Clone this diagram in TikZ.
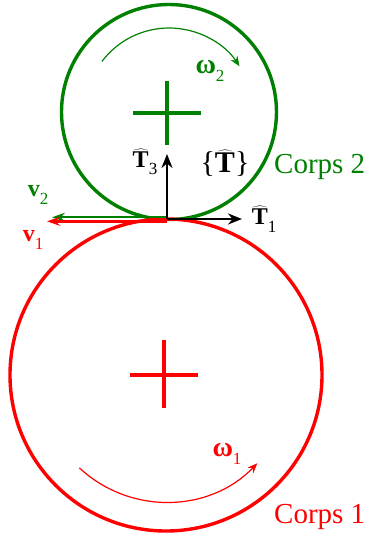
\documentclass[tikz,border=0pt]{standalone}
\usepackage{fontspec}
\setmainfont{Liberation Serif}
\usetikzlibrary{arrows.meta}
\definecolor{cgreen}{RGB}{0,128,0}
\definecolor{cred}{RGB}{255,0,0}
\newcommand{\hatT}{$\widehat{\hbox{\textbf{T}}}$}
\newcommand{\lowsub}[1]{\raisebox{-0.3em}{\fontsize{17}{18}\selectfont #1}}
\tikzset{
  body/.style={line width=3.4pt},
  crossline/.style={line width=3.4pt},
  rotarc/.style={line width=1.2pt,-{Stealth[length=10pt,width=8pt]}},
  axis/.style={line width=2.4pt,black,-{Stealth[length=14pt,width=11pt]}},
  vel/.style={-{Stealth[length=13pt,width=9pt]}},
  lbl/.style={inner sep=0pt,font=\fontsize{24}{28}\selectfont},
  corps/.style={inner sep=0pt,font=\fontsize{29}{32}\selectfont},
}
\begin{document}
\begin{tikzpicture}[x=1pt,y=-1pt]
\useasboundingbox (0,0) rectangle (370,537);
% centres
\coordinate (G) at (169,112);
\coordinate (R) at (166,375);
\coordinate (O) at (167,219);
% bodies
\draw[body,cgreen] (G) circle[radius=107.5];
\draw[body,cred] (R) circle[radius=156];
% crosses
\draw[crossline,cgreen] (133,113) -- (201,113) (167,81) -- (167,145);
\draw[crossline,cred] (130,375) -- (198,375) (164,340) -- (164,408);
% rotation arcs
\draw[rotarc,cgreen] (G) ++(-143:84) arc[start angle=-143,end angle=-33,radius=84];
\draw[rotarc,cred] (R) ++(133:127) arc[start angle=133,end angle=44,radius=127];
% velocities
\coordinate (V2) at (52,217.3);
\coordinate (V1) at (47,221.3);
\coordinate (O2) at (167,217.3);
\coordinate (O1) at (167,221.3);
\draw[vel,cgreen,line width=1.8pt] (O2) -- (V2);
\draw[vel,cred,line width=2.4pt] (O1) -- (V1);
% axes
\coordinate (T3) at (167,154);
\coordinate (T1) at (242,219);
\draw[axis] (O) -- (T3);
\draw[axis] (O) -- (T1);
% labels
\node[lbl] (lT3) at (145,162) {\hatT\lowsub{3}};
\node[lbl,font=\fontsize{30}{34}\selectfont] (lT) at (225,163) {\{\hatT\}};
\node[lbl] (lT1) at (264,219) {\hatT\lowsub{1}};
\node[lbl,cgreen] (lv2) at (38,195) {\textbf{v}\lowsub{2}};
\node[lbl,cred] (lv1) at (33,240) {\textbf{v}\lowsub{1}};
\node[lbl,cgreen,font=\fontsize{28}{32}\selectfont] (lw2) at (210,71) {\textbf{ω}\lowsub{2}};
\node[lbl,cred,font=\fontsize{28}{32}\selectfont] (lw1) at (227,454) {\textbf{ω}\lowsub{1}};
\node[corps,cgreen,anchor=west] (c2) at (274,167) {Corps 2};
\node[corps,cred,anchor=west] (c1) at (274,517) {Corps 1};
\end{tikzpicture}
\end{document}
